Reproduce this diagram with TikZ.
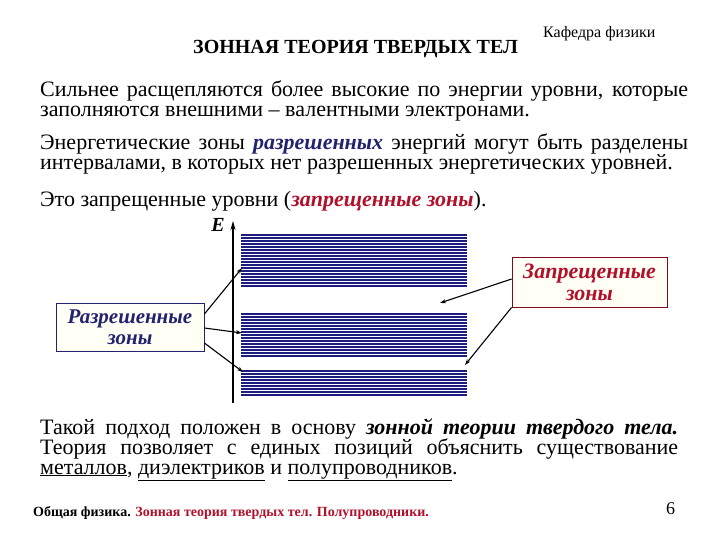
\documentclass[tikz,border=0pt]{standalone}
\usepackage{fontspec}
\IfFontExistsTF{LiberationSerif-Regular.ttf}{%
  \setmainfont{LiberationSerif}[Extension=.ttf,UprightFont=*-Regular,BoldFont=*-Bold,ItalicFont=*-Italic,BoldItalicFont=*-BoldItalic]}{%
  \setmainfont{Liberation Serif}}
\usetikzlibrary{arrows.meta}
\definecolor{navy}{HTML}{22226E}
\definecolor{bandblue}{HTML}{1C1C80}
\definecolor{darkred}{HTML}{B0102A}
\definecolor{boxfill}{HTML}{FFFFF6}
\begin{document}
\begin{tikzpicture}[x=1pt,y=-1pt,
  body/.style={anchor=base west,inner sep=0pt,font=\fontsize{22}{22}\selectfont},
  lbl/.style={draw,fill=boxfill,line width=0.8pt,inner sep=0pt,align=center},
  band/.style={bandblue,line width=1.1pt},
  pointer/.style={-{Stealth[length=6pt,width=4pt]},line width=1.1pt,black}]
\useasboundingbox (0,0) rectangle (720,540);
% header
\node[anchor=base west,inner sep=0pt,font=\fontsize{16}{16}\selectfont] (dept) at (543,38) {Кафедра физики};
\node[anchor=base west,inner sep=0pt,font=\fontsize{20}{20}\selectfont\bfseries] (title) at (193,54) {ЗОННАЯ ТЕОРИЯ ТВЕРДЫХ ТЕЛ};
% paragraphs
\node[body] (p1a) at (40,97) {\makebox[648pt][s]{Сильнее расщепляются более высокие по энергии уровни, которые}};
\node[body] (p1b) at (40,117) {заполняются внешними – валентными электронами.};
\node[body] (p2a) at (40,150) {\makebox[648pt][s]{Энергетические зоны \textcolor{navy}{\textbf{\textit{разрешенных}}} энергий могут быть разделены}};
\node[body] (p2b) at (40,170) {интервалами, в которых нет разрешенных энергетических уровней.};
\node[body] (p3) at (40,207) {Это запрещенные уровни (\textcolor{darkred}{\textbf{\textit{запрещенные зоны}}}).};
\node[body] (p4a) at (40,434) {\makebox[638pt][s]{Такой подход положен в основу \textbf{\textit{зонной теории твердого тела.}}}};
\node[body] (p4b) at (40,454) {\makebox[638pt][s]{Теория позволяет с единых позиций объяснить существование}};
\node[body] (p4c) at (40,474) {\underline{металлов}, \underline{диэлектриков} и \underline{полупроводников}.};
% energy axis
\coordinate (axbot) at (233,403);
\coordinate (axtop) at (233,221);
\draw[-{Stealth[length=9pt,width=5pt]},line width=1.4pt] (axbot) -- (axtop);
\node[anchor=base east,inner sep=0pt,font=\fontsize{20}{20}\selectfont\bfseries\itshape] (E) at (225,232) {E};
% bands
\foreach \i in {0,...,17} {\draw[band] (241,{235+3*\i}) -- (467,{235+3*\i});}
\foreach \i in {0,...,14} {\draw[band] (241,{314+3*\i}) -- (467,{314+3*\i});}
\foreach \i in {0,...,8} {\draw[band] (241,{371+3*\i}) -- (467,{371+3*\i});}
% labels
\node[lbl,draw=navy,text=navy,minimum width=148pt,minimum height=48pt,
  font=\fontsize{21}{21}\selectfont\bfseries\itshape] (allowed) at (130,327) {Разрешенные\\зоны};
\node[lbl,draw=darkred!70!black,text=darkred,minimum width=155pt,minimum height=50pt,
  font=\fontsize{22}{22}\selectfont\bfseries\itshape] (forbidden) at (589.5,282) {Запрещенные\\зоны};
% pointer targets
\coordinate (a1) at (242,268);
\coordinate (a2) at (242,333);
\coordinate (a3) at (243,372);
\coordinate (f1) at (440,303);
\coordinate (f2) at (465,365);
\draw[pointer] (allowed.east |- 0,314) -- (a1);
\draw[pointer] (allowed.east |- 0,328) -- (a2);
\draw[pointer] (allowed.east |- 0,343) -- (a3);
\draw[pointer] (forbidden.west |- 0,279) -- (f1);
\draw[pointer] (forbidden.south west) -- (f2);
% footer
\node[anchor=base west,inner sep=0pt,font=\fontsize{14}{14}\selectfont\bfseries] (foot) at (33,516) {Общая физика. \textcolor{darkred}{Зонная теория твердых тел. Полупроводники.}};
\node[anchor=base west,inner sep=0pt,font=\fontsize{18}{18}\selectfont] (page) at (666,514) {6};
\end{tikzpicture}
\end{document}
